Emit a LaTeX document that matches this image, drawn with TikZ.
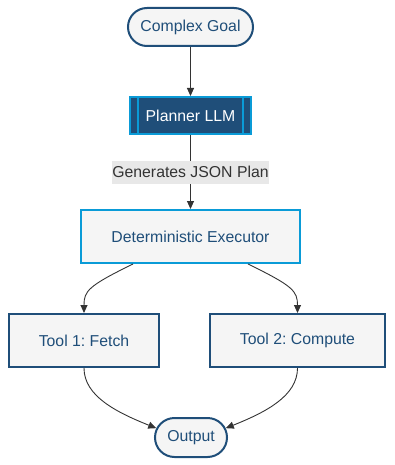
\documentclass[tikz,border=0pt]{standalone}
\usepackage{fontspec}
\setmainfont{Liberation Sans}
\usetikzlibrary{arrows.meta,shapes.misc}
\definecolor{navy}{HTML}{1F4E79}
\definecolor{sky}{HTML}{0A9BD7}
\definecolor{paper}{HTML}{F5F5F5}
\definecolor{ink}{HTML}{333333}
\definecolor{tag}{HTML}{E8E8E8}
\frenchspacing

\begin{document}
\begin{tikzpicture}[x=1pt,y=-1pt,>={Triangle[length=8pt,width=7pt]},
  box/.style={draw=navy,line width=2pt,fill=paper,text=navy,inner sep=0pt,font=\fontsize{15.8}{19}\selectfont},
  term/.style={box,rounded rectangle},
  link/.style={->,draw=ink,line width=.9pt}]
\useasboundingbox (0,0) rectangle (394,465);
% nodes
\node[term,minimum width=125pt,minimum height=38pt] (goal) at (190.5,27){Complex Goal};
\node[box,fill=navy,draw=sky,text=white,minimum width=121pt,minimum height=37pt] (plan) at (190.5,115.5){Planner LLM};
\draw[sky,line width=2pt] ([xshift=9pt]plan.north west)--([xshift=9pt]plan.south west) ([xshift=-9pt]plan.north east)--([xshift=-9pt]plan.south east);
\node[box,draw=sky,minimum width=219pt,minimum height=53pt] (ex) at (190.5,236.5){Deterministic Executor};
\node[box,minimum width=150pt,minimum height=53pt] (t1) at (84,340.5){Tool 1: Fetch};
\node[box,minimum width=175pt,minimum height=53pt] (t2) at (297.5,340.5){Tool 2: Compute};
\node[term,minimum width=72pt,minimum height=39pt] (out) at (191,437.5){Output};
% edges
\draw[link] (goal)--(plan);
\draw[link] (plan)--(ex) node[midway,fill=tag,text=ink,inner xsep=0pt,minimum height=23pt,font=\fontsize{15.8}{19}\selectfont]{Generates JSON Plan};
\draw[link] ([xshift=-57.5pt]ex.south) .. controls +(-45,22) and +(0,-22) .. (t1.north);
\draw[link] ([xshift=57.5pt]ex.south) .. controls +(45,22) and +(0,-22) .. (t2.north);
\draw[link] (t1.south) .. controls +(0,28) and +(-40,-16) .. (out.165);
\draw[link] (t2.south) .. controls +(0,28) and +(40,-16) .. (out.15);
\end{tikzpicture}
\end{document}
